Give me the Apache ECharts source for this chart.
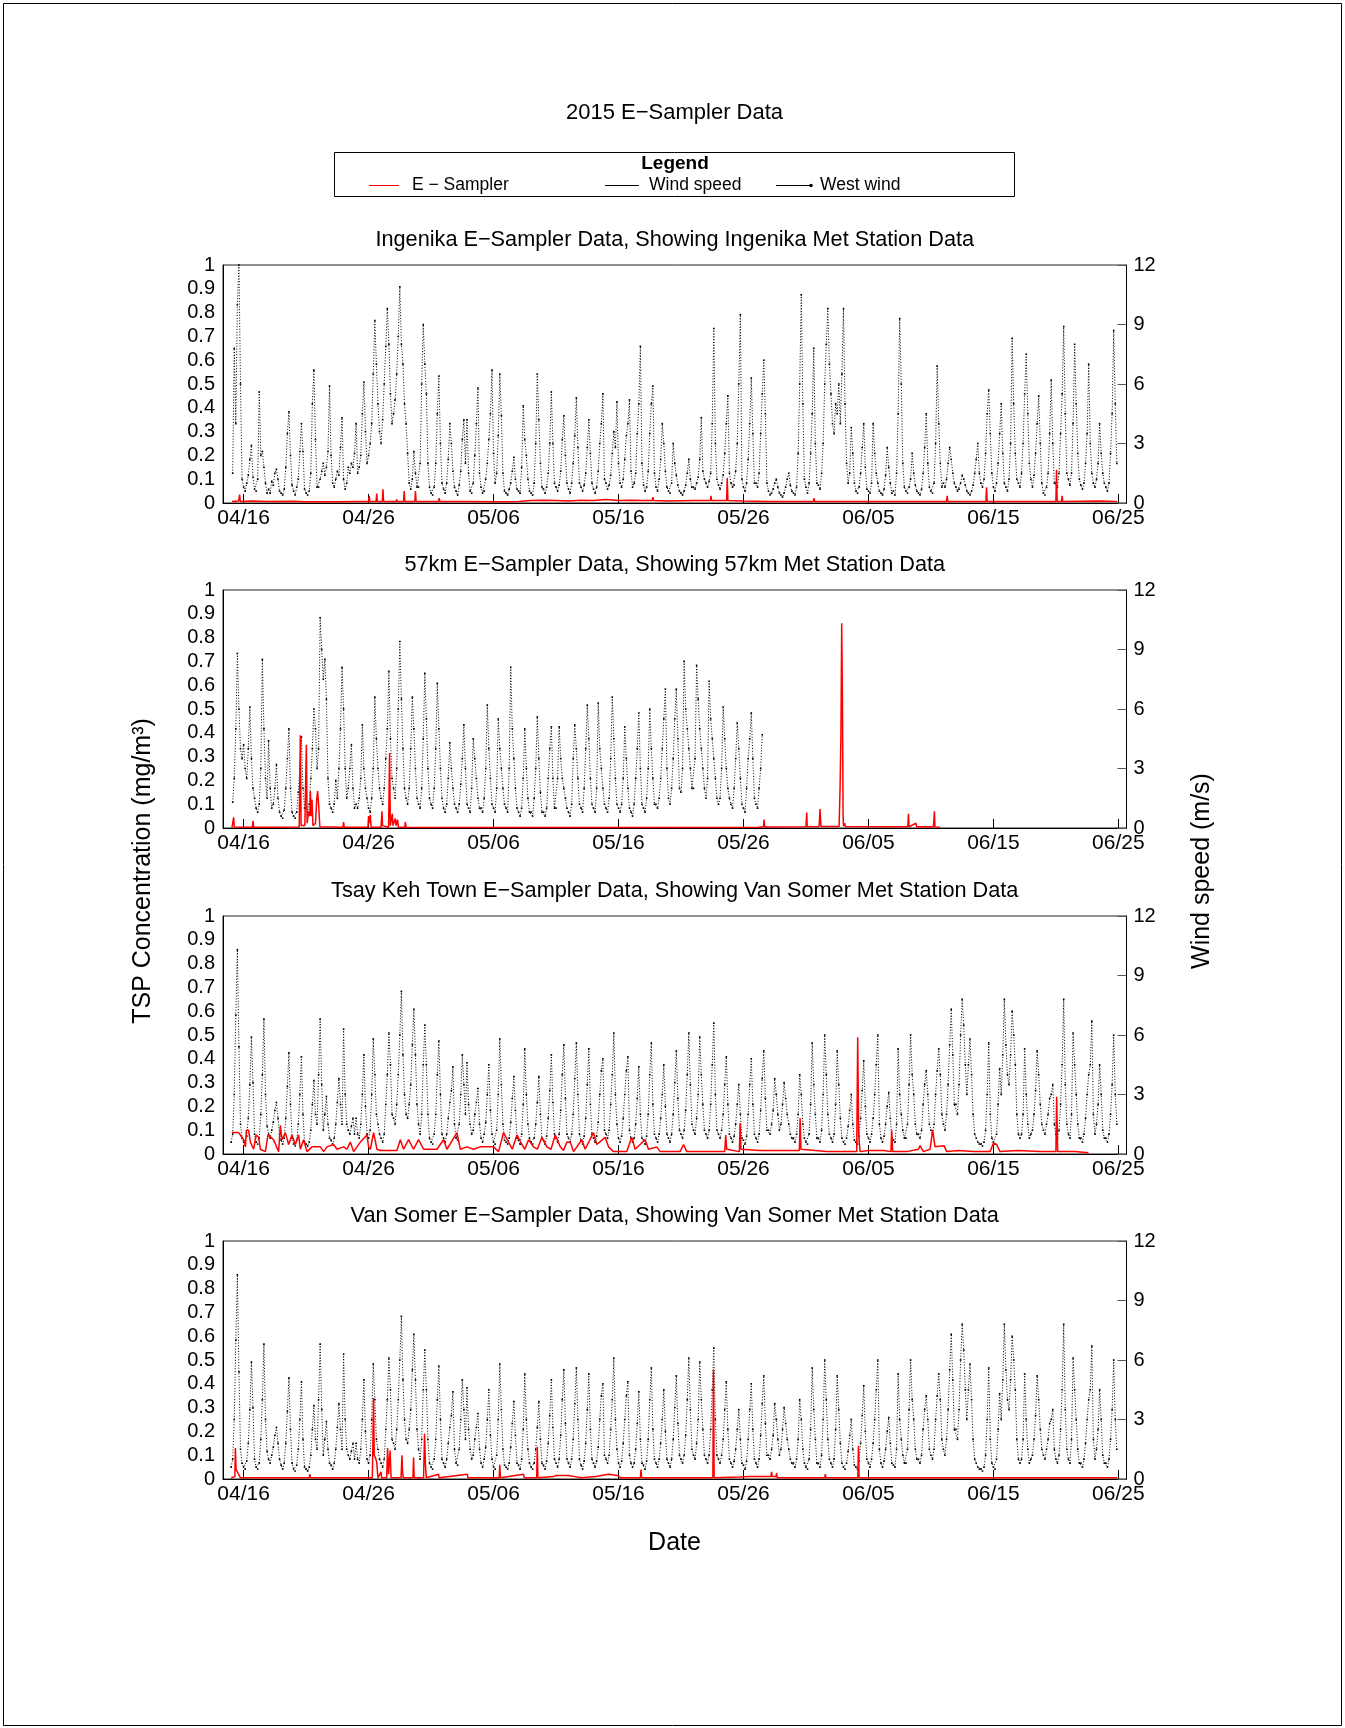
<!DOCTYPE html>
<html><head><meta charset="utf-8">
<script src="https://cdn.jsdelivr.net/npm/echarts@6/dist/echarts.min.js"></script>
<style>html,body{margin:0;padding:0;background:#fff}#c{width:1345px;height:1728px}</style>
</head><body><div id="c"></div>
<script>
// x values are days since 2015-04-06 (04/16 = 10)
const tickDays = [10, 20, 30, 40, 50, 60, 70, 80];
const tickLabels = ['04/16', '04/26', '05/06', '05/16', '05/26', '06/05', '06/15', '06/25'];
const panelTitles = [
  'Ingenika E\u2212Sampler Data, Showing Ingenika Met Station Data',
  '57km E\u2212Sampler Data, Showing 57km Met Station Data',
  'Tsay Keh Town E\u2212Sampler Data, Showing Van Somer Met Station Data',
  'Van Somer E\u2212Sampler Data, Showing Van Somer Met Station Data'
];
// wind speed (m/s), 3-hourly from 04/15 00:00 (day 9)
const windStartDay = 9;
const windStepDays = 0.125;
const ingenikaWind = [
null,1.5,7.8,4.0,10.0,12.0,6.0,1.2,
0.8,0.6,1.0,1.4,2.2,2.9,1.3,0.7,
0.6,1.2,5.6,2.4,2.6,1.8,1.0,0.5,
0.7,0.5,1.1,0.9,1.5,1.7,1.2,0.6,
0.5,0.4,0.7,1.8,3.5,4.6,2.4,0.9,
0.6,0.4,0.8,1.2,2.6,4.0,2.6,0.7,
0.5,0.4,0.6,1.5,5.0,6.7,3.2,0.8,
0.8,1.2,1.6,2.0,1.4,1.8,2.6,5.9,
2.4,1.0,0.8,1.2,1.6,1.4,2.8,4.3,
1.2,0.7,1.0,1.8,1.5,2.0,1.8,2.5,
4.0,1.5,1.8,2.4,4.5,6.1,3.6,2.0,
2.4,3.0,4.0,6.5,9.2,7.0,5.0,3.6,
3.0,4.2,6.0,7.9,9.8,8.0,5.5,4.0,
4.5,5.2,6.5,8.4,10.9,8.0,7.0,5.0,
4.0,2.5,1.0,0.7,1.2,2.6,1.5,0.8,
0.8,2.0,6.0,9.0,7.0,5.5,2.0,0.8,
0.5,0.4,0.8,2.0,4.5,6.4,3.0,1.0,
0.7,0.5,1.0,2.2,4.0,3.0,1.6,0.8,
0.6,0.4,0.9,1.6,3.2,4.2,2.0,4.2,
1.5,0.6,0.5,1.0,2.4,4.0,5.8,1.5,
0.8,0.5,0.6,1.2,2.0,3.2,4.5,6.7,
2.5,1.0,1.5,3.4,6.5,4.4,1.5,0.6,
0.5,0.4,0.7,1.0,1.6,2.3,1.2,0.7,
0.6,0.5,1.8,4.9,3.2,2.4,1.2,0.6,
0.5,0.4,1.0,3.0,6.5,4.2,2.0,0.8,
0.7,0.5,0.8,1.5,3.0,5.6,3.0,1.0,
0.8,0.6,0.9,1.6,3.2,4.4,2.4,1.0,
0.7,0.5,1.0,2.0,3.4,5.3,2.8,1.0,
0.8,0.6,0.9,1.5,2.8,4.2,2.5,1.0,
0.7,0.5,0.8,1.6,3.0,4.0,5.5,1.2,
1.0,0.7,0.9,1.4,2.5,3.6,2.8,5.1,
2.0,1.0,0.8,1.2,2.2,3.4,4.0,5.2,
1.6,0.8,1.0,1.5,3.5,5.0,7.9,2.0,
0.9,0.6,0.8,1.6,3.5,5.0,5.9,1.5,
0.8,0.6,1.2,2.2,4.0,3.0,1.6,0.8,
0.6,0.5,1.0,3.0,2.0,1.4,0.9,0.6,
0.5,0.4,0.6,0.9,1.5,2.2,1.2,0.8,
0.8,0.7,1.0,1.3,2.2,4.3,1.6,1.2,
1.0,0.8,1.1,1.5,4.0,8.8,3.0,1.2,
0.9,0.7,1.0,1.4,2.5,4.0,5.4,1.5,
1.0,0.8,0.9,1.6,3.0,6.0,9.5,1.2,
0.8,0.6,1.0,2.2,4.0,6.3,3.5,1.0,
1.0,0.8,1.5,3.5,5.5,7.2,4.5,1.0,
0.6,0.4,0.5,0.7,1.0,1.2,0.8,0.5,
0.4,0.3,0.5,0.8,1.2,1.5,0.9,0.6,
0.5,0.4,0.8,2.5,6.0,10.5,5.0,1.2,
0.8,0.5,1.0,2.5,4.5,7.8,3.0,1.0,
0.9,0.7,1.5,3.0,6.0,8.0,9.8,7.0,
5.5,4.0,3.5,5.0,4.5,6.0,4.0,6.5,
9.8,5.0,2.0,1.0,1.5,3.8,2.5,1.0,
0.6,0.5,0.8,1.5,2.8,4.0,1.8,0.7,
0.6,0.5,1.0,4.0,2.5,1.5,1.0,0.6,
0.5,0.4,0.7,1.4,2.8,1.8,1.0,0.5,
0.6,0.4,1.5,4.5,9.3,6.0,2.0,0.8,
0.6,0.5,0.8,1.2,2.5,1.5,0.9,0.6,
0.5,0.4,0.7,1.5,2.8,4.5,2.0,0.8,
0.6,0.5,1.0,3.0,6.9,4.0,2.0,0.8,
1.0,0.8,1.2,2.0,2.8,2.2,1.5,1.0,
0.8,0.6,0.7,1.0,1.4,1.2,0.9,0.6,
0.5,0.4,0.6,0.9,1.5,2.2,3.0,1.5,
1.0,0.8,1.2,2.5,4.5,5.7,3.5,1.5,
0.8,0.6,1.0,2.0,3.5,5.0,2.5,1.0,
0.8,0.6,1.2,3.0,8.3,5.0,2.5,1.2,
1.0,0.8,1.5,3.0,5.5,7.5,4.5,2.0,
1.2,0.8,1.4,2.5,4.0,5.4,3.0,1.0,
0.5,0.4,0.8,1.5,3.5,6.2,3.0,1.0,
1.0,0.8,1.5,3.5,5.5,8.9,4.5,1.5,
1.2,0.9,1.5,4.0,8.0,5.0,2.5,1.2,
0.9,0.7,1.0,2.0,3.5,7.0,3.0,1.5,
1.0,0.8,1.2,2.0,4.0,2.5,1.5,1.0,
0.8,0.6,1.0,2.5,4.5,8.7,5.0,2.0
];
const km57Wind = [
null,1.3,2.5,5.0,8.8,6.0,4.0,3.5,
4.2,3.0,2.5,4.0,6.1,3.5,2.0,1.5,
1.0,0.8,1.2,3.0,8.5,5.0,2.5,1.5,
4.4,2.0,1.0,1.2,2.0,3.2,1.5,0.8,
0.6,0.5,0.9,2.0,3.5,5.0,2.0,0.8,
0.6,0.5,0.8,1.8,3.0,4.6,2.0,1.0,
1.0,0.8,1.2,2.5,4.0,6.0,5.0,3.0,
4.0,10.6,9.0,7.5,8.5,6.5,2.5,1.2,
1.0,0.8,1.2,2.4,1.5,3.0,5.0,8.1,
6.0,3.0,1.5,2.0,3.0,4.2,2.0,1.0,
1.2,1.0,1.5,2.5,5.2,3.0,2.0,1.5,
1.0,0.8,1.5,3.0,6.6,4.5,3.0,2.0,
1.5,1.2,2.0,3.5,5.0,7.9,4.5,2.5,
2.0,1.5,3.0,6.0,9.4,6.5,4.0,2.0,
1.5,1.2,2.0,4.0,6.6,5.0,3.0,1.5,
1.2,1.0,2.0,4.5,7.8,5.5,3.0,1.5,
1.2,1.0,2.0,4.0,7.3,5.0,3.0,1.5,
1.0,0.8,1.2,2.5,4.3,3.0,2.0,1.2,
1.0,0.8,1.2,2.2,3.5,5.2,3.0,1.2,
1.0,0.8,2.0,4.5,3.5,2.5,1.5,1.0,
1.0,0.8,1.5,3.0,6.2,4.0,2.5,1.2,
1.0,0.8,2.0,5.5,4.0,3.0,2.0,1.2,
1.0,0.8,3.0,8.1,5.0,3.5,2.0,1.0,
0.8,0.6,1.0,2.5,5.0,3.0,1.5,0.8,
0.8,0.6,1.5,3.0,5.6,3.5,1.8,0.8,
0.8,0.6,1.0,2.5,4.0,5.1,2.5,1.0,
1.0,2.5,5.1,3.5,2.5,2.0,1.5,1.0,
0.8,0.6,1.2,3.5,5.2,4.0,2.5,1.2,
1.0,0.8,2.0,4.0,6.2,4.5,2.5,1.2,
1.0,0.8,2.0,6.3,4.0,3.0,2.0,1.2,
1.0,0.8,1.5,3.5,6.6,4.5,2.5,1.2,
1.0,0.8,1.2,2.5,5.1,3.5,2.0,1.0,
0.8,0.6,1.2,2.5,4.0,5.8,3.0,1.2,
1.0,0.8,1.5,3.0,6.0,4.0,2.5,1.2,
1.2,1.0,1.5,2.5,4.0,5.5,7.0,3.0,
1.5,1.2,2.0,3.5,5.5,7.0,4.5,2.0,
1.8,3.0,8.4,6.0,5.0,4.0,3.0,2.0,
2.0,3.5,8.2,6.5,5.0,4.0,3.0,2.0,
1.5,2.5,7.4,5.5,4.5,3.5,2.5,1.5,
1.2,1.5,3.0,6.1,4.5,3.0,2.0,1.5,
1.2,1.0,2.0,3.5,5.3,4.0,2.5,1.2,
1.0,0.8,2.0,3.5,4.5,5.8,3.5,1.5,
1.2,1.0,2.0,3.0,4.7
];
const vanSomerWind = [
0.6,1.0,3.0,7.0,10.3,5.4,1.5,0.8,
0.6,0.5,0.9,1.8,3.5,5.9,3.6,1.0,
0.6,0.5,0.8,2.0,4.0,6.8,3.0,1.4,
1.0,0.8,1.2,1.6,2.2,2.6,1.8,1.0,
0.7,0.5,0.8,1.8,3.4,5.1,2.5,0.8,
0.5,0.4,0.7,1.5,3.0,4.9,2.0,0.6,
0.5,0.4,0.6,1.2,2.5,3.7,2.0,1.5,
4.0,6.8,3.5,1.2,2.0,2.9,1.5,0.8,
0.7,0.5,0.8,1.5,2.6,3.8,2.5,1.5,
6.3,3.0,1.5,1.2,1.0,1.4,1.8,1.0,
1.8,1.0,0.8,1.5,3.0,5.0,2.4,1.0,
0.8,1.2,3.0,5.8,4.0,2.0,1.5,1.0,
0.8,0.6,1.0,2.5,4.0,6.1,4.5,2.0,
1.8,1.5,2.5,4.0,6.0,8.2,5.0,3.0,
2.0,1.8,2.5,3.5,5.5,7.3,5.0,2.5,
1.5,1.0,2.0,4.5,6.5,4.5,2.0,0.8,
0.6,0.5,1.0,2.0,4.0,5.7,3.0,1.0,
0.8,0.6,1.0,1.8,2.6,3.2,4.4,1.5,
0.8,0.7,1.5,3.0,5.0,3.5,2.0,4.6,
2.5,1.5,1.0,1.2,2.0,2.6,3.3,1.5,
0.8,0.6,1.0,1.6,3.0,4.5,2.2,1.0,
0.6,0.5,1.2,3.0,5.8,3.5,1.5,0.7,
0.6,0.5,0.8,1.6,2.8,3.9,2.2,0.8,
0.7,0.5,1.0,2.5,5.3,3.0,1.5,0.8,
0.6,0.5,0.8,1.5,2.6,3.9,2.0,0.8,
0.7,0.5,0.9,1.8,3.2,5.0,2.6,1.0,
0.8,0.6,1.0,2.2,4.0,5.5,2.8,1.0,
0.8,0.6,1.0,2.0,3.8,5.6,3.0,1.0,
0.7,0.5,0.9,1.8,3.5,5.3,2.5,1.0,
0.8,0.6,0.9,1.6,3.0,4.2,4.8,1.2,
1.0,0.8,1.2,2.5,4.0,6.1,3.0,1.5,
0.8,0.6,0.9,1.8,3.0,4.2,4.9,1.2,
0.8,0.6,0.8,1.5,2.8,4.4,2.0,0.8,
0.7,0.5,0.9,2.0,4.0,5.6,2.5,1.0,
0.8,0.6,1.0,1.8,3.0,4.5,2.4,1.0,
0.8,0.6,1.0,2.0,3.6,5.2,2.8,1.2,
1.0,0.8,1.2,2.2,4.0,6.1,3.5,1.5,
1.2,1.0,1.8,3.0,5.9,4.0,2.5,1.2,
1.0,0.8,1.2,2.5,4.5,6.6,3.0,1.2,
1.0,0.8,1.2,2.0,3.5,4.9,2.5,1.0,
0.8,0.6,0.9,1.5,2.5,3.5,2.0,0.8,
0.7,0.5,0.9,2.0,3.5,4.8,2.5,1.0,
0.8,0.6,1.0,2.2,3.8,5.2,2.8,1.2,
1.2,1.0,1.5,2.2,3.8,3.0,2.0,1.2,
1.5,2.5,3.6,2.8,2.0,1.5,1.0,0.8,
0.8,0.6,1.0,2.0,4.0,3.0,1.5,0.8,
0.6,0.5,1.0,2.5,5.6,3.5,2.0,0.8,
0.8,0.6,1.2,3.0,6.0,4.0,2.0,1.0,
0.8,0.6,1.0,2.5,5.2,3.5,1.8,0.8,
0.6,0.5,0.8,1.4,2.2,3.0,1.5,0.7,
0.6,0.5,0.9,1.8,3.2,4.7,2.4,1.0,
0.8,0.6,1.0,1.8,3.0,4.5,6.0,1.5,
0.8,0.6,0.9,1.5,2.4,3.1,1.8,0.8,
0.7,0.6,1.5,5.3,3.0,2.0,1.2,0.8,
0.8,1.5,3.5,6.0,4.0,3.0,1.5,1.0,
1.0,0.8,1.2,2.5,3.5,4.2,3.0,1.5,
1.2,1.0,1.5,3.0,4.2,5.3,4.0,2.0,
1.5,1.2,2.0,3.5,5.5,7.3,5.0,2.5,
2.5,2.0,3.5,6.0,7.8,6.5,4.5,3.0,
4.5,5.8,4.0,2.0,1.0,0.8,0.6,0.5,
0.5,0.4,0.6,1.2,3.0,5.6,2.0,0.8,
0.6,0.5,1.0,2.5,4.3,3.0,5.0,7.8,
5.5,4.0,3.5,5.0,7.2,6.0,4.5,2.0,
1.0,0.8,1.0,2.0,5.3,3.0,1.5,0.8,
1.0,1.2,2.0,3.2,5.2,4.0,2.5,1.5,
1.2,1.0,1.5,2.0,2.8,3.0,3.5,1.5,
1.0,0.8,1.2,2.5,4.5,7.8,3.5,1.5,
1.0,0.8,2.0,6.1,4.5,3.0,1.5,0.8,
0.8,0.6,1.0,1.8,3.0,4.0,4.5,6.7,
2.0,1.0,1.5,2.5,4.5,3.0,1.2,0.8,
0.8,0.6,1.0,2.0,3.5,6.0,3.0,1.5
];
// E-Sampler TSP (mg/m3) as [day, value]
const ingenikaTsp = [[9.07,0.006],[9.6,0.008],[9.68,0.035],[9.74,0.006],[10.6,0.008],[12,0.006],[14,0.007],[15,0.005],[17.5,0.005],[19,0.006],[20.0,0.006],[20.05,0.03],[20.1,0.006],[20.6,0.006],[20.65,0.04],[20.7,0.006],[21.1,0.006],[21.15,0.058],[21.2,0.006],[22.2,0.006],[22.25,0.015],[22.3,0.006],[22.8,0.006],[22.85,0.05],[22.9,0.006],[23.7,0.006],[23.75,0.05],[23.8,0.006],[25,0.006],[25.6,0.006],[25.65,0.02],[25.7,0.006],[28,0.006],[30.5,0.005],[32,0.006],[33,0.01],[34,0.012],[35,0.01],[36,0.008],[37,0.012],[38,0.01],[39,0.015],[40,0.01],[41,0.012],[42,0.01],[42.7,0.01],[42.75,0.025],[42.8,0.01],[44,0.008],[46,0.01],[47.35,0.01],[47.4,0.03],[47.45,0.01],[48.65,0.01],[48.7,0.105],[48.75,0.01],[50,0.008],[52,0.006],[55.6,0.006],[55.65,0.02],[55.7,0.006],[58,0.006],[60,0.006],[62,0.006],[66.25,0.006],[66.3,0.03],[66.35,0.006],[69.4,0.006],[69.45,0.066],[69.5,0.006],[71.5,0.006],[75.0,0.006],[75.05,0.14],[75.1,0.006],[75.45,0.006],[75.5,0.03],[75.55,0.006],[78.5,0.008],[78.55,0.015],[78.6,0.008],[79.9,0.006]];
const km57Tsp = [[9.07,0.003],[9.15,0.005],[9.2,0.045],[9.25,0.004],[10.0,0.003],[10.7,0.003],[10.75,0.03],[10.8,0.003],[12,0.003],[14.45,0.004],[14.54,0.39],[14.6,0.01],[14.9,0.01],[15.02,0.35],[15.08,0.02],[15.2,0.07],[15.3,0.05],[15.34,0.155],[15.4,0.05],[15.47,0.12],[15.55,0.01],[15.75,0.02],[15.85,0.12],[15.92,0.155],[16.0,0.1],[16.1,0.005],[17.95,0.003],[18.0,0.025],[18.05,0.003],[19.95,0.003],[20.0,0.05],[20.1,0.02],[20.14,0.055],[20.2,0.003],[21.0,0.003],[21.07,0.07],[21.12,0.01],[21.6,0.003],[21.68,0.315],[21.74,0.01],[21.9,0.06],[21.95,0.01],[22.1,0.01],[22.14,0.04],[22.2,0.01],[22.28,0.01],[22.32,0.035],[22.38,0.003],[22.9,0.003],[22.94,0.025],[23.0,0.003],[30,0.002],[40,0.002],[51.2,0.003],[51.3,0.01],[51.4,0.004],[51.6,0.004],[51.65,0.035],[51.7,0.004],[55.0,0.005],[55.06,0.065],[55.1,0.005],[56.05,0.006],[56.13,0.08],[56.2,0.006],[57.65,0.006],[57.73,0.17],[57.8,0.4],[57.86,0.86],[57.92,0.53],[57.97,0.05],[58.0,0.008],[58.1,0.02],[58.15,0.006],[61.9,0.005],[62.0,0.01],[62.1,0.005],[63.15,0.005],[63.2,0.06],[63.25,0.005],[63.8,0.02],[63.85,0.005],[65.2,0.005],[65.28,0.07],[65.32,0.004],[65.73,0.003]];
const tsayKehTsp = [[9.07,0.09],[9.6,0.09],[9.74,0.08],[10.0,0.06],[10.14,0.03],[10.22,0.1],[10.4,0.1],[10.54,0.05],[10.8,0.02],[11.0,0.08],[11.2,0.07],[11.34,0.02],[11.74,0.01],[11.95,0.08],[12.2,0.07],[12.4,0.06],[12.8,0.01],[12.94,0.12],[13.07,0.06],[13.34,0.09],[13.6,0.04],[13.87,0.08],[14.14,0.04],[14.4,0.08],[14.54,0.02],[14.8,0.06],[15.07,0.01],[15.47,0.03],[16.14,0.03],[16.4,0.01],[16.67,0.03],[17.2,0.04],[17.47,0.02],[18.0,0.03],[18.27,0.02],[18.54,0.05],[18.8,0.01],[19.34,0.05],[19.87,0.08],[20.0,0.03],[20.14,0.02],[20.4,0.09],[20.67,0.02],[20.94,0.015],[22.27,0.015],[22.54,0.06],[22.8,0.02],[23.2,0.06],[23.6,0.02],[24.0,0.06],[24.4,0.02],[25.47,0.02],[26.0,0.06],[26.27,0.02],[27.07,0.09],[27.34,0.02],[27.87,0.03],[28.4,0.02],[28.94,0.03],[30.0,0.03],[30.4,0.01],[30.8,0.09],[31.2,0.05],[31.5,0.02],[31.87,0.08],[32.27,0.04],[32.5,0.02],[32.8,0.06],[33.2,0.03],[33.5,0.02],[33.87,0.07],[34.27,0.03],[34.6,0.02],[34.94,0.08],[35.34,0.03],[35.6,0.015],[35.87,0.05],[36.13,0.05],[36.4,0.01],[37.06,0.06],[37.33,0.02],[38.0,0.09],[38.26,0.04],[38.93,0.07],[39.2,0.03],[39.6,0.01],[40.66,0.01],[41.06,0.07],[41.33,0.02],[42.13,0.06],[42.4,0.02],[43.06,0.03],[43.33,0.01],[44.93,0.01],[45.2,0.04],[45.46,0.01],[47.86,0.01],[48.5,0.01],[48.58,0.08],[48.66,0.02],[49.67,0.01],[49.73,0.13],[49.8,0.02],[51.3,0.015],[52.66,0.015],[54.0,0.015],[54.47,0.015],[54.53,0.15],[54.6,0.02],[56.66,0.01],[58.8,0.01],[59.06,0.01],[59.14,0.49],[59.22,0.08],[59.33,0.01],[60.0,0.015],[61.2,0.015],[61.8,0.01],[61.86,0.1],[61.94,0.01],[63.06,0.01],[64.0,0.02],[64.13,0.035],[64.4,0.01],[64.93,0.02],[65.14,0.1],[65.33,0.03],[66.05,0.035],[66.26,0.01],[67.2,0.015],[68.4,0.01],[69.73,0.01],[70.0,0.045],[70.26,0.04],[70.53,0.01],[72.0,0.015],[73.73,0.01],[75.0,0.01],[75.06,0.24],[75.14,0.01],[76.53,0.01],[77.6,0.005]];
const vanSomerTsp = [[9.0,0.005],[9.3,0.01],[9.34,0.13],[9.4,0.04],[9.5,0.035],[9.6,0.02],[9.75,0.005],[15.25,0.005],[15.3,0.02],[15.35,0.005],[20.3,0.005],[20.4,0.34],[20.45,0.1],[20.55,0.09],[20.65,0.07],[20.75,0.005],[21.0,0.03],[21.05,0.005],[21.45,0.005],[21.52,0.13],[21.6,0.02],[21.72,0.12],[21.8,0.005],[22.6,0.005],[22.67,0.1],[22.72,0.03],[22.78,0.005],[23.55,0.005],[23.6,0.09],[23.65,0.005],[24.4,0.005],[24.48,0.19],[24.55,0.06],[24.62,0.005],[25.6,0.02],[25.65,0.005],[27.9,0.02],[27.95,0.005],[30.45,0.005],[30.5,0.06],[30.55,0.005],[32.4,0.02],[32.45,0.005],[33.45,0.005],[33.5,0.135],[33.55,0.005],[34.8,0.01],[35.0,0.015],[36.0,0.015],[36.5,0.01],[37,0.005],[38.2,0.01],[38.6,0.015],[39.2,0.02],[39.9,0.015],[40.2,0.005],[41.75,0.005],[41.8,0.04],[41.85,0.005],[47.55,0.005],[47.6,0.46],[47.65,0.005],[49.7,0.008],[50.5,0.01],[51.5,0.01],[52.2,0.01],[52.25,0.03],[52.3,0.01],[52.6,0.01],[52.65,0.025],[52.7,0.005],[56.5,0.005],[56.55,0.02],[56.6,0.005],[59.15,0.005],[59.2,0.14],[59.25,0.005],[65,0.005],[70,0.005],[79.9,0.005]];

const windSets = [ingenikaWind, km57Wind, vanSomerWind, vanSomerWind];
const tspSets = [ingenikaTsp, km57Tsp, tsayKehTsp, vanSomerTsp];

const FONT = 'Liberation Sans, Arial, sans-serif';
const gridTops = [265, 590, 916, 1241];
const GL = 223, GW = 903.5, GH = 238;
function windPairs(arr) { return arr.map((v, i) => [windStartDay + i * windStepDays, v]); }

const chart = echarts.init(document.getElementById('c'), null, {renderer: 'canvas'});
const grids = [], xAxes = [], yAxes = [], series = [], graphics = [];
gridTops.forEach((t, i) => {
  grids.push({left: GL, top: t, width: GW, height: GH, show: true, borderColor: '#222', borderWidth: 1, containLabel: false});
  xAxes.push({gridIndex: i, type: 'value', min: 8.35, max: 80.65,
    axisLine: {show: true, onZero: false, lineStyle: {color: '#000', width: 1}},
    axisTick: {show: true, inside: true, length: 9, customValues: tickDays, lineStyle: {color: '#000'}},
    axisLabel: {customValues: tickDays, formatter: v => tickLabels[tickDays.indexOf(v)], fontSize: 21, color: '#000', margin: 5, fontFamily: FONT},
    splitLine: {show: false}});
  yAxes.push({gridIndex: i, type: 'value', position: 'left', min: 0, max: 1, interval: 0.1,
    axisLine: {show: true, lineStyle: {color: '#000'}}, axisTick: {show: false},
    axisLabel: {fontSize: 20, color: '#000', margin: 8, fontFamily: FONT, formatter: v => String(parseFloat(v.toFixed(1)))},
    splitLine: {show: false}});
  yAxes.push({gridIndex: i, type: 'value', position: 'right', min: 0, max: 12, interval: 3,
    axisLine: {show: true, lineStyle: {color: '#000'}},
    axisTick: {show: true, inside: true, length: 9, lineStyle: {color: '#555'}},
    axisLabel: {fontSize: 20, color: '#000', margin: 7, fontFamily: FONT},
    splitLine: {show: false}});
  series.push({type: 'line', xAxisIndex: i, yAxisIndex: 2 * i + 1, data: windPairs(windSets[i]),
    symbol: 'rect', symbolSize: 1.6, showSymbol: true, showAllSymbol: true,
    itemStyle: {color: '#000'}, connectNulls: false, z: 2,
    lineStyle: {color: '#000', width: 1, type: [1, 1.8]}});
  series.push({type: 'line', xAxisIndex: i, yAxisIndex: 2 * i, data: tspSets[i],
    symbol: 'none', z: 3, lineStyle: {color: '#ff0000', width: 1.5}});
  graphics.push({type: 'text', x: GL + GW / 2, y: t - 25, style: {text: panelTitles[i], font: '21.7px ' + FONT, fill: '#000', align: 'center', verticalAlign: 'middle'}});
});

graphics.push(
  {type: 'rect', shape: {x: 3.5, y: 3.5, width: 1338, height: 1722}, style: {fill: 'none', stroke: '#000', lineWidth: 1}},
  {type: 'text', x: 674.5, y: 113, style: {text: '2015 E\u2212Sampler Data', font: '22px ' + FONT, fill: '#000', align: 'center', verticalAlign: 'middle'}},
  {type: 'rect', shape: {x: 334.5, y: 152.5, width: 680, height: 44}, style: {fill: '#fff', stroke: '#000', lineWidth: 1}},
  {type: 'text', x: 675, y: 164, style: {text: 'Legend', font: 'bold 19px ' + FONT, fill: '#000', align: 'center', verticalAlign: 'middle'}},
  {type: 'line', shape: {x1: 369, y1: 185.5, x2: 399, y2: 185.5}, style: {stroke: '#ff0000', lineWidth: 1}},
  {type: 'text', x: 412, y: 185, style: {text: 'E \u2212 Sampler', font: '17.5px ' + FONT, fill: '#000', align: 'left', verticalAlign: 'middle'}},
  {type: 'line', shape: {x1: 605, y1: 185.5, x2: 639, y2: 185.5}, style: {stroke: '#000', lineWidth: 1}},
  {type: 'text', x: 649, y: 185, style: {text: 'Wind speed', font: '17.5px ' + FONT, fill: '#000', align: 'left', verticalAlign: 'middle'}},
  {type: 'line', shape: {x1: 776, y1: 185.5, x2: 811, y2: 185.5}, style: {stroke: '#000', lineWidth: 1}},
  {type: 'circle', shape: {cx: 811, cy: 185.5, r: 1.8}, style: {fill: '#000'}},
  {type: 'text', x: 820, y: 185, style: {text: 'West wind', font: '17.5px ' + FONT, fill: '#000', align: 'left', verticalAlign: 'middle'}},
  {type: 'text', x: 143, y: 871, rotation: Math.PI / 2, style: {text: 'TSP Concentration (mg/m\u00b3)', font: '25px ' + FONT, fill: '#000', align: 'center', verticalAlign: 'middle'}},
  {type: 'text', x: 1202, y: 871, rotation: Math.PI / 2, style: {text: 'Wind speed (m/s)', font: '25px ' + FONT, fill: '#000', align: 'center', verticalAlign: 'middle'}},
  {type: 'text', x: 674.5, y: 1543, style: {text: 'Date', font: '25px ' + FONT, fill: '#000', align: 'center', verticalAlign: 'middle'}}
);

chart.setOption({
  animation: false,
  backgroundColor: '#fff',
  textStyle: {fontFamily: FONT},
  grid: grids, xAxis: xAxes, yAxis: yAxes, series: series, graphic: graphics
});
</script></body></html>
